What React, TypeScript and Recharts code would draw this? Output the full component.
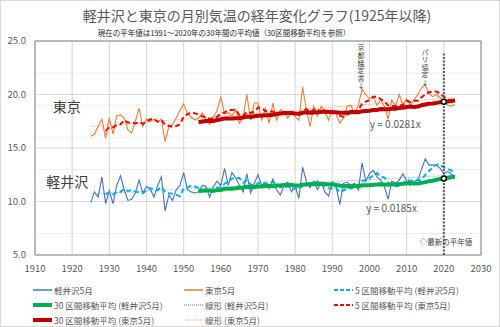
import {
  CartesianGrid,
  ComposedChart,
  Line,
  ReferenceArea,
  ReferenceDot,
  ReferenceLine,
  XAxis,
  YAxis,
} from "recharts";

// May mean temperature, 1925-2023
const years = [
  1925, 1926, 1927, 1928, 1929,
  1930, 1931, 1932, 1933, 1934, 1935, 1936, 1937, 1938, 1939,
  1940, 1941, 1942, 1943, 1944, 1945, 1946, 1947, 1948, 1949,
  1950, 1951, 1952, 1953, 1954, 1955, 1956, 1957, 1958, 1959,
  1960, 1961, 1962, 1963, 1964, 1965, 1966, 1967, 1968, 1969,
  1970, 1971, 1972, 1973, 1974, 1975, 1976, 1977, 1978, 1979,
  1980, 1981, 1982, 1983, 1984, 1985, 1986, 1987, 1988, 1989,
  1990, 1991, 1992, 1993, 1994, 1995, 1996, 1997, 1998, 1999,
  2000, 2001, 2002, 2003, 2004, 2005, 2006, 2007, 2008, 2009,
  2010, 2011, 2012, 2013, 2014, 2015, 2016, 2017, 2018, 2019,
  2020, 2021, 2022, 2023,
];

const karuizawa = [
  9.9, 10.9, 10.4, 12.3, 9.8,
  11.0, 9.8, 11.5, 12.4, 11.1, 10.1, 10.2, 10.8, 12.0, 10.8,
  11.4, 11.2, 10.4, 11.5, 12.3, 9.1, 10.6, 10.1, 11.1, 11.5,
  12.7, 11.1, 10.9, 10.8, 10.9, 11.5, 11.4, 10.4, 11.4, 11.9,
  11.5, 13.1, 11.5, 12.7, 12.2, 11.5, 10.9, 12.6, 10.8, 11.7,
  12.5, 11.5, 11.8, 11.2, 12.1, 11.1, 10.6, 11.5, 11.8, 10.9,
  11.4, 10.3, 13.2, 11.9, 11.3, 11.9, 11.1, 11.8, 10.9, 10.5,
  11.8, 11.4, 9.7, 11.7, 11.8, 11.5, 11.7, 11.1, 13.6, 11.9,
  12.6, 12.9, 12.3, 12.0, 11.4, 10.2, 11.9, 11.7, 12.0, 12.6,
  11.9, 11.5, 11.9, 12.0, 13.0, 14.0, 13.4, 13.4, 13.4, 13.1,
  12.6, 12.8, 12.6, 12.3,
];

const tokyo = [
  16.1, 16.3, 17.0, 17.7, 15.9,
  17.8, 16.3, 18.0, 18.1, 17.8, 16.7, 16.4, 17.5, 18.7, 17.0,
  17.7, 17.5, 17.7, 17.4, 17.7, 15.6, 17.0, 17.2, 17.8, 18.5,
  19.1, 18.2, 17.9, 17.6, 17.8, 18.3, 17.7, 17.2, 17.9, 18.5,
  19.8, 18.2, 18.3, 18.0, 18.6, 17.3, 17.9, 20.0, 17.6, 19.2,
  19.2, 17.6, 18.7, 17.3, 19.2, 17.6, 18.6, 18.4, 17.8, 18.4,
  17.9, 17.6, 20.7, 18.6, 17.0, 18.9, 18.0, 18.9, 18.4, 17.6,
  18.6, 18.2, 17.3, 17.8, 18.9, 19.0, 18.2, 19.0, 20.5, 20.0,
  19.6, 19.8, 19.0, 19.5, 18.9, 17.7, 19.5, 18.9, 20.0, 19.0,
  19.6, 19.0, 19.5, 20.0, 20.6, 20.9, 20.1, 19.8, 20.0, 19.7,
  19.4, 19.0, 18.9, 19.1,
];

const xTicks = [1910, 1920, 1930, 1940, 1950, 1960, 1970, 1980, 1990, 2000, 2010, 2020, 2030];
const yTicks = [5, 10, 15, 20, 25];
const normalYear = 2020;

// excel-style trailing moving average
function movingAverage(values: number[], n: number) {
  return values.map((_, i) => {
    if (i < n - 1) return null;
    const win = values.slice(i - n + 1, i + 1);
    return win.reduce((a, b) => a + b, 0) / n;
  });
}

function linearFit(xs: number[], ys: number[]) {
  const n = xs.length;
  const mx = xs.reduce((a, b) => a + b, 0) / n;
  const my = ys.reduce((a, b) => a + b, 0) / n;
  let sxy = 0;
  let sxx = 0;
  xs.forEach((x, i) => {
    sxy += (x - mx) * (ys[i] - my);
    sxx += (x - mx) * (x - mx);
  });
  const b = sxy / sxx;
  return xs.map((x) => my + b * (x - mx));
}

const karu5 = movingAverage(karuizawa, 5);
const karu30 = movingAverage(karuizawa, 30);
const karuLin = linearFit(years, karuizawa);
const tokyo5 = movingAverage(tokyo, 5);
const tokyo30 = movingAverage(tokyo, 30);
const tokyoLin = linearFit(years, tokyo);

const data = years.map((year, i) => ({
  year,
  karu: karuizawa[i],
  tokyo: tokyo[i],
  karu5: karu5[i],
  karu30: karu30[i],
  karuLin: karuLin[i],
  tokyo5: tokyo5[i],
  tokyo30: tokyo30[i],
  tokyoLin: tokyoLin[i],
}));

const iNormal = years.indexOf(normalYear);

// minor gridlines (excel: major / 5)
const minorX: number[] = [];
for (let v = 1910; v <= 2030; v += 2) minorX.push(v);
const minorY: number[] = [];
for (let v = 5; v <= 25; v += 1) minorY.push(v);

const FONT = "'Noto Sans CJK JP', 'Noto Sans', sans-serif";

const legendItems = [
  { label: "軽井沢5月", color: "#4472C4", width: 1.5, dash: undefined },
  { label: "東京5月", color: "#ED7D31", width: 1.5, dash: undefined },
  { label: "5 区間移動平均 (軽井沢5月)", color: "#00B0F0", width: 2, dash: "4 2" },
  { label: "30 区間移動平均 (軽井沢5月)", color: "#00B050", width: 4, dash: undefined },
  { label: "線形 (軽井沢5月)", color: "#4472C4", width: 1, dash: "1 1" },
  { label: "5 区間移動平均 (東京5月)", color: "#FF0000", width: 2, dash: "4 2" },
  { label: "30 区間移動平均 (東京5月)", color: "#C00000", width: 4, dash: undefined },
  { label: "線形 (東京5月)", color: "#F4B183", width: 1, dash: "1 1" },
];

// annotation written top-to-bottom
function VerticalText({ viewBox, text }: any) {
  const { x, y } = viewBox;
  return (
    <text
      x={x}
      y={y}
      fontSize={7}
      fill="#404040"
      style={{ writingMode: "vertical-rl", textOrientation: "upright", letterSpacing: 0.6 }}
    >
      {text}
    </text>
  );
}

function Legend() {
  const colLeft = [32, 183, 333];
  return (
    <div style={{ position: "absolute", left: 0, top: 281, width: 500 }}>
      {legendItems.map((item, i) => {
        const col = i % 3;
        const row = Math.floor(i / 3);
        return (
          <div
            key={item.label}
            style={{
              position: "absolute",
              left: colLeft[col],
              top: row * 15,
              height: 15,
              display: "flex",
              alignItems: "center",
              whiteSpace: "nowrap",
              fontSize: 8.5,
              color: "#595959",
            }}
          >
            <svg width={19} height={6} style={{ marginRight: 2 }}>
              <line
                x1={0}
                y1={3}
                x2={19}
                y2={3}
                stroke={item.color}
                strokeWidth={item.width}
                strokeDasharray={item.dash}
              />
            </svg>
            <span>{item.label}</span>
          </div>
        );
      })}
    </div>
  );
}

export default function App() {
  return (
    <div
      style={{
        position: "absolute",
        left: 0,
        top: 0,
        width: 498,
        height: 325,
        border: "1px solid #d9d9d9",
        background: "#fff",
        fontFamily: FONT,
        overflow: "hidden",
      }}
    >
      <div
        style={{
          position: "absolute",
          top: 4,
          left: 0,
          width: 512,
          textAlign: "center",
          fontSize: 14,
          color: "#595959",
          whiteSpace: "nowrap",
        }}
      >
        軽井沢と東京の月別気温の経年変化グラフ(1925年以降)
      </div>
      <div
        style={{
          position: "absolute",
          top: 26,
          left: 0,
          width: 446,
          textAlign: "center",
          fontSize: 7.5,
          color: "#262626",
          whiteSpace: "nowrap",
        }}
      >
        現在の平年値は1991～2020年の30年間の平均値（30区間移動平均を参照）
      </div>
      <div style={{ position: "absolute", left: -1, top: -1 }}>
        <ComposedChart
          width={500}
          height={327}
          data={data}
          margin={{ top: 41, right: 19, left: 0, bottom: 52 }}
        >
          <CartesianGrid
            stroke="#efefef"
            verticalValues={minorX}
            horizontalValues={minorY}
          />
          <CartesianGrid stroke="#d9d9d9" verticalValues={xTicks} horizontalValues={yTicks} />
          <XAxis
            dataKey="year"
            type="number"
            domain={[1910, 2030]}
            ticks={xTicks}
            axisLine={false}
            tickLine={false}
            tickSize={0}
            tickMargin={10}
            height={20}
            tick={{ fontSize: 9.5, fill: "#595959" }}
          />
          <YAxis
            type="number"
            domain={[5, 25]}
            ticks={yTicks}
            tickFormatter={(v: number) => v.toFixed(1)}
            axisLine={false}
            tickLine={false}
            tickSize={0}
            tickMargin={9}
            width={35}
            tick={{ fontSize: 9.5, fill: "#595959" }}
          />
          <ReferenceArea
            x1={1910}
            x2={2030}
            y1={5}
            y2={25}
            fill="none"
            stroke="#8c8c8c"
            strokeWidth={1}
          />

          <Line dataKey="karuLin" stroke="#8FAADC" strokeWidth={1} strokeDasharray="1 1" dot={false} isAnimationActive={false} />
          <Line dataKey="tokyoLin" stroke="#F4B183" strokeWidth={1} strokeDasharray="1 1" dot={false} isAnimationActive={false} />
          <Line dataKey="karu" stroke="#4472C4" strokeWidth={1.1} dot={false} isAnimationActive={false} />
          <Line dataKey="tokyo" stroke="#ED7D31" strokeWidth={1.1} dot={false} isAnimationActive={false} />
          <Line dataKey="karu5" stroke="#00B0F0" strokeWidth={2} strokeDasharray="5 3" dot={false} isAnimationActive={false} />
          <Line dataKey="tokyo5" stroke="#FF0000" strokeWidth={2} strokeDasharray="5 3" dot={false} isAnimationActive={false} />
          <Line dataKey="karu30" stroke="#00B050" strokeWidth={4} dot={false} isAnimationActive={false} />
          <Line dataKey="tokyo30" stroke="#C00000" strokeWidth={4} dot={false} isAnimationActive={false} />

          <ReferenceLine
            segment={[
              { x: normalYear, y: 5 },
              { x: normalYear, y: 23.9 },
            ]}
            stroke="#595959"
            strokeWidth={2}
            strokeDasharray="2 1.5"
          />
          <ReferenceDot x={normalYear} y={karu30[iNormal] as number} r={2.5} fill="#fff" stroke="#000" strokeWidth={1.5} />
          <ReferenceDot x={normalYear} y={tokyo30[iNormal] as number} r={2.5} fill="#fff" stroke="#000" strokeWidth={1.5} />

          <ReferenceDot x={1914.8} y={18.83} r={0} fill="none" stroke="none"
            label={{ value: "東京", position: "right", offset: 0, fontSize: 14, fill: "#404040" }} />
          <ReferenceDot x={1913} y={11.8} r={0} fill="none" stroke="none"
            label={{ value: "軽井沢", position: "right", offset: 0, fontSize: 14, fill: "#404040" }} />
          <ReferenceDot x={2000.1} y={17.24} r={0} fill="none" stroke="none"
            label={{ value: "y = 0.0281x", position: "right", offset: 0, fontSize: 10, fill: "#595959" }} />
          <ReferenceDot x={1999.1} y={9.39} r={0} fill="none" stroke="none"
            label={{ value: "y = 0.0185x", position: "right", offset: 0, fontSize: 10, fill: "#595959" }} />
          <ReferenceDot x={2013.5} y={6.21} r={0} fill="none" stroke="none"
            label={{ value: "◇最新の平年値", position: "right", offset: 0, fontSize: 7.5, fill: "#404040" }} />
          <ReferenceDot x={1997.7} y={24.7} r={0} fill="none" stroke="none"
            label={(props: any) => <VerticalText {...props} text="京都議定書↓" />} />
          <ReferenceDot x={2014.9} y={24.3} r={0} fill="none" stroke="none"
            label={(props: any) => <VerticalText {...props} text="パリ協定↓" />} />
        </ComposedChart>
      </div>
      <Legend />
    </div>
  );
}
